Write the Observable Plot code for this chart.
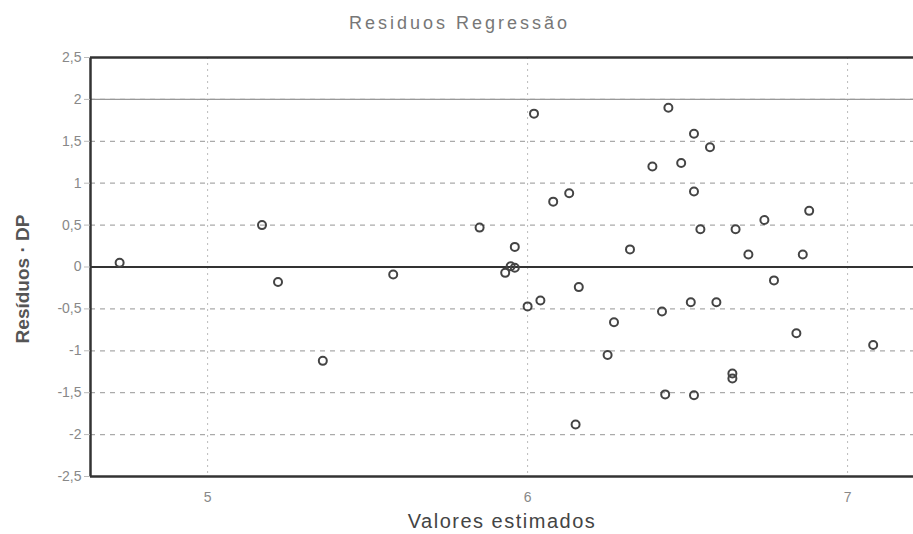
<!DOCTYPE html>
<html>
<head>
<meta charset="utf-8">
<script src="https://cdn.jsdelivr.net/npm/d3@7"></script>
<script src="https://cdn.jsdelivr.net/npm/@observablehq/plot@0.6"></script>
<style>
  body { margin: 0; background: #fff; font-family: "Liberation Sans", Arial, sans-serif; }
  #title { height: 40px; box-sizing: border-box; padding-top: 13px; text-align: center; font-size: 18px; line-height: 20px; color: #777; letter-spacing: 3px; padding-left: 6px; }
</style>
</head>
<body>
<div id="title">Residuos Regressão</div>
<div id="chart"></div>
<script>
const xVals = [4.725, 5.17, 5.22, 5.36, 5.58, 5.85, 6.02, 6.44, 6.52, 6.57, 6.39, 6.48, 6.52, 6.13, 6.08, 6.88, 6.74, 6.54, 6.65, 5.96, 6.32, 6.69, 6.86, 5.947, 5.96, 5.93, 6.77, 6.16, 6.00, 6.04, 6.51, 6.59, 6.42, 6.27, 6.84, 7.08, 6.25, 6.64, 6.64, 6.43, 6.52, 6.15];
const yVals = [0.05, 0.50, -0.18, -1.12, -0.09, 0.47, 1.83, 1.90, 1.59, 1.43, 1.20, 1.24, 0.90, 0.88, 0.78, 0.67, 0.56, 0.45, 0.45, 0.24, 0.21, 0.15, 0.15, 0.01, -0.01, -0.07, -0.16, -0.24, -0.47, -0.40, -0.42, -0.42, -0.53, -0.66, -0.79, -0.93, -1.05, -1.27, -1.33, -1.52, -1.53, -1.88];
const yTicks = [-2.5, -2, -1.5, -1, -0.5, 0, 0.5, 1, 1.5, 2, 2.5];
const xTicks = [5, 6, 7];
const xDomain = [4.634, 7.206];

const points = xVals.map((x, i) => ({x, y: yVals[i]}));
const fmt = d => String(d).replace(".", ",");
const gridY = yTicks.filter(d => d !== 0 && Math.abs(d) !== 2.5);

const chart = Plot.plot({
  width: 913,
  height: 494,
  marginTop: 17,
  marginBottom: 58,
  marginLeft: 90,
  marginRight: 0,
  style: { fontFamily: "Liberation Sans, Arial, sans-serif", fontSize: "14px", color: "#888", background: "#fff" },
  x: { domain: xDomain, ticks: xTicks, tickFormat: fmt, label: null },
  y: { domain: [-2.5, 2.5], ticks: yTicks, tickFormat: fmt, label: null },
  marks: [
    Plot.ruleX(xTicks, { stroke: "#bbb", strokeWidth: 1, strokeDasharray: "2,4" }),
    Plot.ruleY(gridY, { stroke: "#aaa", strokeWidth: 1.2, strokeDasharray: "5,5" }),
    Plot.ruleY([2], { stroke: "#999", strokeWidth: 1.2 }),
    Plot.ruleY([0], { stroke: "#333", strokeWidth: 2 }),
    Plot.ruleY([2.5, -2.5], { stroke: "#333", strokeWidth: 2.5 }),
    Plot.ruleX([xDomain[0]], { stroke: "#333", strokeWidth: 2.5 }),
    Plot.axisY({ ticks: yTicks, tickFormat: fmt, tickSize: 6, tickPadding: 3, stroke: "#bbb", fill: "#888", fontSize: 14, label: null }),
    Plot.axisX({ ticks: xTicks, tickFormat: fmt, tickSize: 0, tickPadding: 16, fill: "#888", fontSize: 14, label: null }),
    Plot.dot(points, { x: "x", y: "y", r: 4, stroke: "#444", strokeWidth: 2, fill: "none" }),
    Plot.text(["Valores estimados"], { frameAnchor: "bottom", dy: 51, text: d => d, fontSize: 20, fill: "#444" }),
    Plot.text(["Resíduos · DP"], { frameAnchor: "left", textAnchor: "middle", dx: -68, dy: 12, rotate: -90, text: d => d, fontSize: 19, fontWeight: "bold", fill: "#555" })
  ]
});
chart.querySelectorAll("text").forEach(t => {
  if (t.textContent === "Valores estimados") t.style.letterSpacing = "1.5px";
});
document.getElementById("chart").appendChild(chart);
</script>
</body>
</html>
